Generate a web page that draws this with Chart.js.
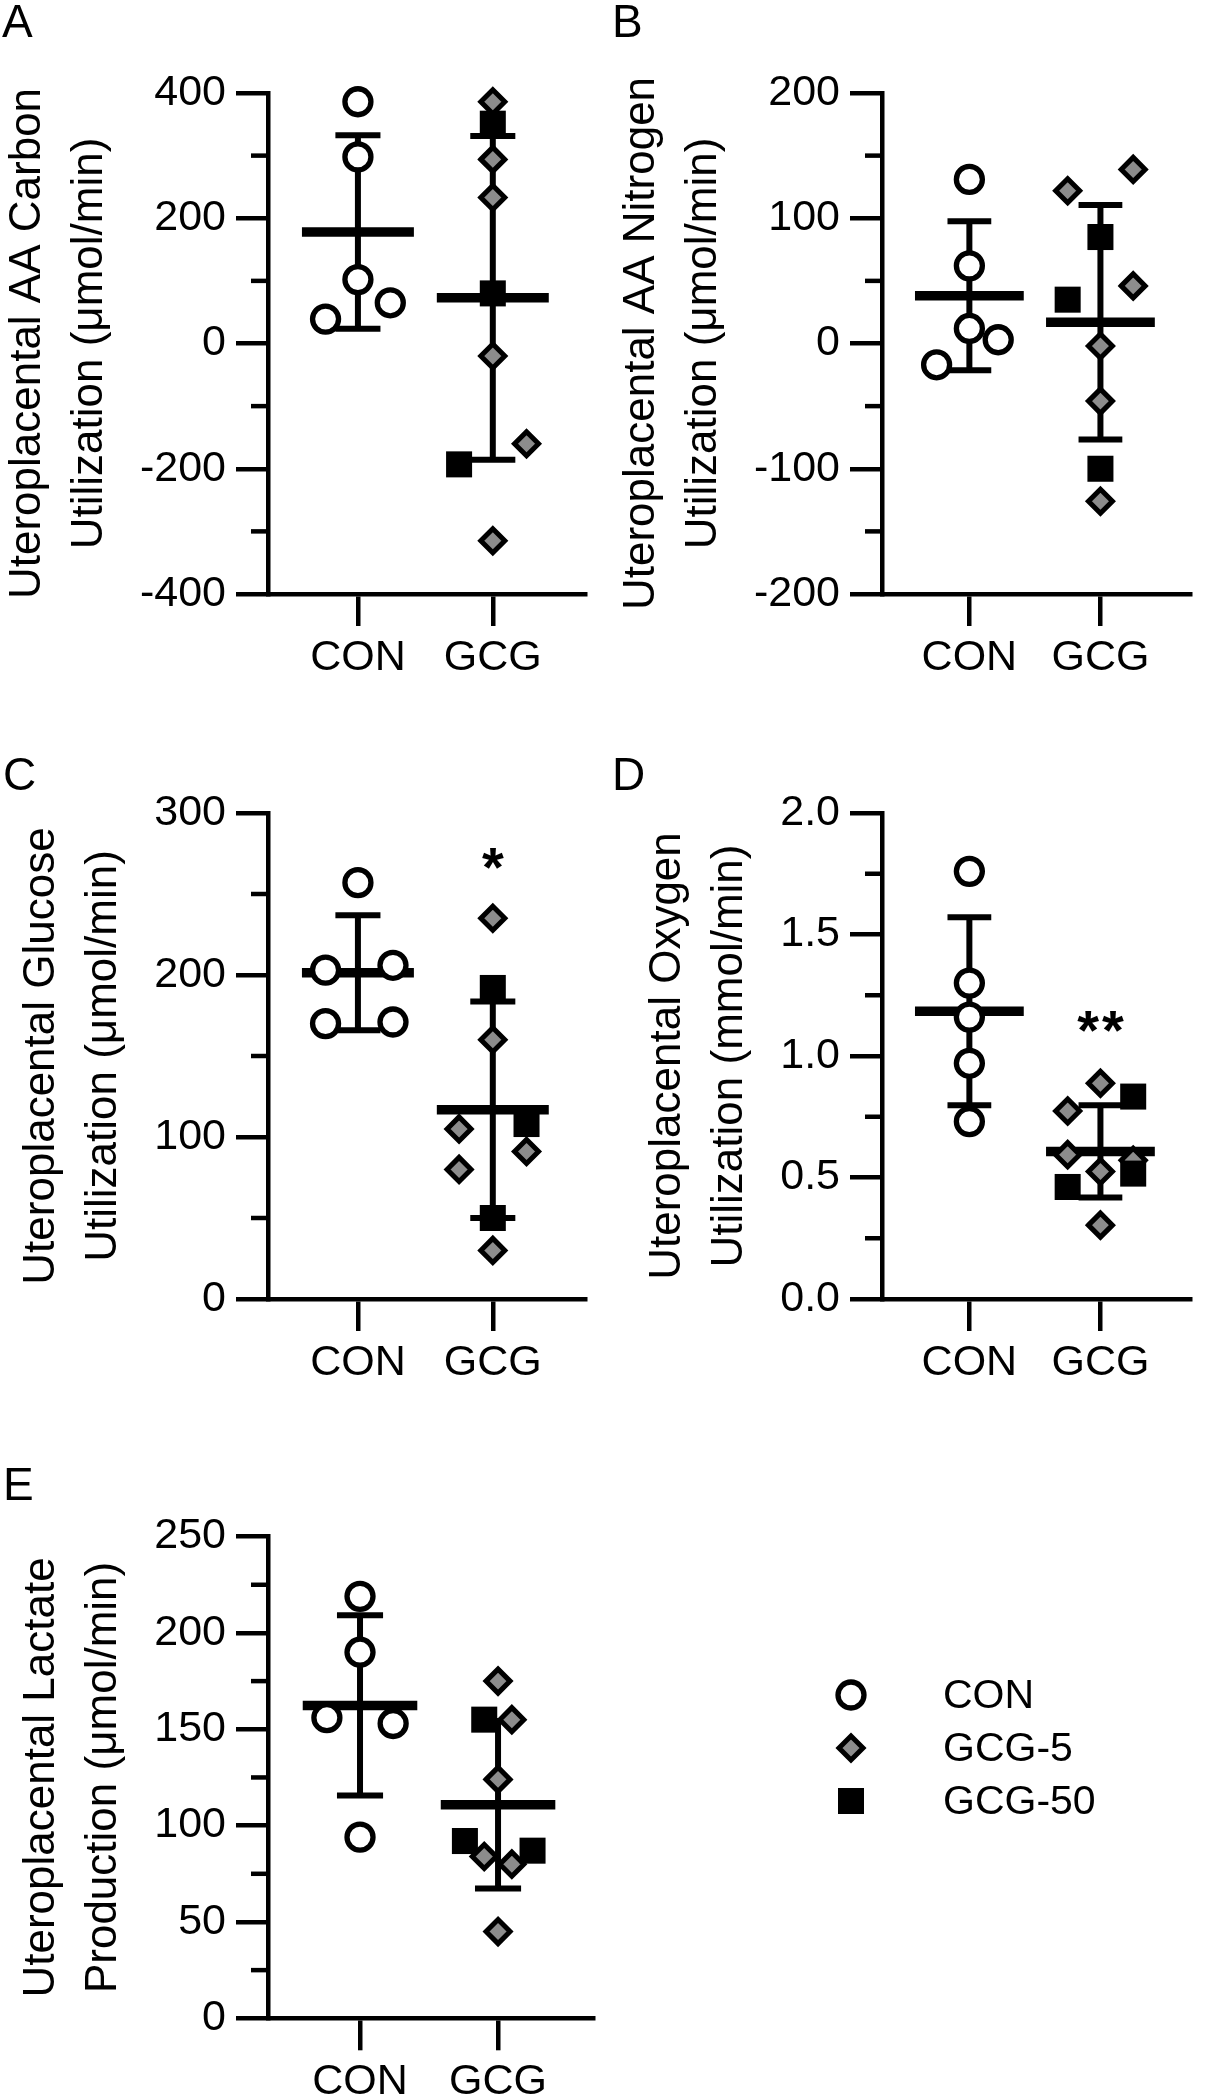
<!DOCTYPE html>
<html>
<head>
<meta charset="utf-8">
<script src="https://cdn.jsdelivr.net/npm/chart.js@4.4.1/dist/chart.umd.min.js"></script>
<style>
  html, body { margin: 0; padding: 0; background: #fff; }
  #page { position: relative; width: 1209px; height: 2100px; overflow: hidden; background: #fff; }
  #page canvas { position: absolute; }
</style>
</head>
<body>
<div id="page"></div>
<script>
const groups = ['CON', 'GCG'];
const seriesNames = ['CON', 'GCG-5', 'GCG-50'];

// A - AA carbon utilization (umol/min); *X = horizontal scatter of the dots
const carbonCon = [386, 298, 102, 65, 39];
const carbonConX = [0, 0, 0, 0.24, -0.24];
const carbonG5 = [386, 294, 233, -20, -160, -315];
const carbonG5X = [0, 0, 0, 0, 0.25, 0];
const carbonG50 = [351, 80, -193];
const carbonG50X = [0, 0, -0.25];
const carbonTicks = [-400, -200, 0, 200, 400];

// B - AA nitrogen utilization (umol/min)
const nitroCon = [131, 62, 12, 3, -17];
const nitroConX = [0, 0, 0, 0.22, -0.25];
const nitroG5 = [122, 139, 46, -2, -46, -126];
const nitroG5X = [-0.25, 0.25, 0.25, 0, 0, 0];
const nitroG50 = [85, 35, -100];
const nitroG50X = [0, -0.25, 0];
const nitroTicks = [-200, -100, 0, 100, 200];

// C - glucose utilization (umol/min)
const glucCon = [257, 203, 206, 170, 171];
const glucConX = [0, -0.24, 0.26, -0.24, 0.26];
const glucG5 = [235, 160, 105, 91, 80, 30];
const glucG5X = [0, 0, -0.25, 0.25, -0.25, 0];
const glucG50 = [192, 108, 50];
const glucG50X = [0, 0.25, 0];
const glucTicks = [0, 100, 200, 300];

// D - oxygen utilization (mmol/min)
const oxyCon = [1.76, 1.30, 1.16, 0.97, 0.73];
const oxyConX = [0, 0, 0, 0, 0];
const oxyG5 = [0.888, 0.774, 0.594, 0.571, 0.525, 0.304];
const oxyG5X = [0, -0.25, -0.25, 0.25, 0, 0];
const oxyG50 = [0.833, 0.516, 0.461];
const oxyG50X = [0.25, 0.25, -0.25];
const oxyTicks = [0, 0.5, 1, 1.5, 2];

// E - lactate production (umol/min)
const lacCon = [219, 190, 156, 153, 94];
const lacConX = [0, 0, -0.24, 0.24, 0];
const lacG5 = [175, 155, 124, 84, 80, 45];
const lacG5X = [0, 0.1, 0, -0.1, 0.1, 0];
const lacG50 = [155, 92, 87];
const lacG50X = [-0.1, -0.24, 0.25];
const lacTicks = [0, 50, 100, 150, 200, 250];

const FONT = "'Liberation Sans', Arial, Helvetica, sans-serif";
Chart.defaults.font.family = FONT;
Chart.defaults.color = '#000';

const X_MIN = 1 / 3, X_MAX = 2.688;
const MEAN_HALF = 0.415, CAP_HALF = 0.167;
const AXIS_W = 4.5;

const pointStyles = {
  'CON':    { pointStyle: 'circle',  pointRadius: 13,   pointBorderWidth: 5.3, pointBackgroundColor: '#fff',    pointBorderColor: '#000', order: 1 },
  'GCG-5':  { pointStyle: 'rectRot', pointRadius: 12,   pointBorderWidth: 5,   pointBackgroundColor: '#8c8c8c', pointBorderColor: '#000', order: 3 },
  'GCG-50': { pointStyle: 'rect',    pointRadius: 18.4, pointBorderWidth: 0,   pointBackgroundColor: '#000',    pointBorderColor: '#000', order: 2 },
};

const panels = [
  { letter: 'A', con: carbonCon, conX: carbonConX, g5: carbonG5, g5X: carbonG5X, g50: carbonG50, g50X: carbonG50X,
    ticks: carbonTicks, digits: 0, title: ['Uteroplacental AA Carbon', 'Utilization (μmol/min)'],
    canvas: [-10, 0, 614, 700], box: { left: 268, top: 93, right: 593, bottom: 594 }, letterAt: [2, 37] },
  { letter: 'B', con: nitroCon, conX: nitroConX, g5: nitroG5, g5X: nitroG5X, g50: nitroG50, g50X: nitroG50X,
    ticks: nitroTicks, digits: 0, title: ['Uteroplacental AA Nitrogen', 'Utilization (μmol/min)'],
    canvas: [604, 0, 605, 700], box: { left: 882, top: 93, right: 1207, bottom: 594 }, letterAt: [612, 37] },
  { letter: 'C', con: glucCon, conX: glucConX, g5: glucG5, g5X: glucG5X, g50: glucG50, g50X: glucG50X,
    ticks: glucTicks, digits: 0, title: ['Uteroplacental Glucose', 'Utilization (μmol/min)'],
    star: { text: '*', value: 275 },
    canvas: [-10, 700, 614, 700], box: { left: 268, top: 813, right: 593, bottom: 1299 }, letterAt: [3, 790] },
  { letter: 'D', con: oxyCon, conX: oxyConX, g5: oxyG5, g5X: oxyG5X, g50: oxyG50, g50X: oxyG50X,
    ticks: oxyTicks, digits: 1, title: ['Uteroplacental Oxygen', 'Utilization (mmol/min)'],
    star: { text: '**', value: 1.16 },
    canvas: [604, 700, 605, 700], box: { left: 882, top: 813, right: 1207, bottom: 1299 }, letterAt: [612, 790] },
  { letter: 'E', con: lacCon, conX: lacConX, g5: lacG5, g5X: lacG5X, g50: lacG50, g50X: lacG50X,
    ticks: lacTicks, digits: 0, title: ['Uteroplacental Lactate', 'Production (μmol/min)'],
    canvas: [-10, 1400, 1219, 720], box: { left: 268, top: 1536.6, right: 593, bottom: 2018.3 }, letterAt: [3, 1500],
    legend: { markerX: 851, textX: 943, rows: [1695, 1748, 1801] } },
];

function meanSd(v) {
  const m = v.reduce((a, b) => a + b, 0) / v.length;
  const sd = Math.sqrt(v.reduce((a, b) => a + (b - m) * (b - m), 0) / (v.length - 1));
  return [m, sd];
}

function seg(x1, y1, x2, y2, w) {
  return { type: 'line', data: [{ x: x1, y: y1 }, { x: x2, y: y2 }], borderColor: '#000', borderWidth: w,
           borderCapStyle: 'butt', pointRadius: 0, order: 5, clip: false };
}

// mean line + SD whiskers for one group
function meanBars(xc, values) {
  const [m, sd] = meanSd(values);
  return [
    seg(xc - MEAN_HALF, m, xc + MEAN_HALF, m, 9.5),
    seg(xc, m - sd, xc, m + sd, 6),
    seg(xc - CAP_HALF, m + sd, xc + CAP_HALF, m + sd, 6),
    seg(xc - CAP_HALF, m - sd, xc + CAP_HALF, m - sd, 6),
  ];
}

function dots(name, xc, values, offsets) {
  return Object.assign({ type: 'scatter', label: name, clip: false,
    data: values.map((v, i) => ({ x: xc + offsets[i], y: v })) }, pointStyles[name]);
}

const extras = {
  id: 'extras',
  afterDraw(chart, args, o) {
    const ctx = chart.ctx, sx = chart.scales.x, sy = chart.scales.y;
    const [cx, cy] = o.canvas;
    ctx.save();
    // minor ticks half way between the labelled ones
    ctx.strokeStyle = '#000';
    ctx.lineWidth = AXIS_W;
    for (let i = 0; i < o.ticks.length - 1; i++) {
      const py = sy.getPixelForValue((o.ticks[i] + o.ticks[i + 1]) / 2);
      ctx.beginPath();
      ctx.moveTo(sy.right - 17, py);
      ctx.lineTo(sy.right, py);
      ctx.stroke();
    }
    ctx.fillStyle = '#000';
    // panel letter
    ctx.font = '46px ' + FONT;
    ctx.textAlign = 'left';
    ctx.textBaseline = 'alphabetic';
    ctx.fillText(o.letter, o.letterAt[0] - cx, o.letterAt[1] - cy);
    // significance marks above GCG
    if (o.star) {
      const gap = 3;
      ctx.font = 'bold 56px ' + FONT;
      ctx.letterSpacing = gap + 'px';
      const w = ctx.measureText(o.star.text).width - gap;
      ctx.fillText(o.star.text, sx.getPixelForValue(2) - w / 2, sy.getPixelForValue(o.star.value) + 32);
      ctx.letterSpacing = '0px';
    }
    // legend
    if (o.legend) {
      ctx.font = '41px ' + FONT;
      ctx.textBaseline = 'middle';
      seriesNames.forEach((name, i) => {
        const st = pointStyles[name];
        const y = o.legend.rows[i] - cy;
        ctx.fillStyle = st.pointBackgroundColor;
        ctx.strokeStyle = st.pointBorderColor;
        ctx.lineWidth = st.pointBorderWidth;
        Chart.helpers.drawPoint(ctx, { pointStyle: st.pointStyle, radius: st.pointRadius,
          borderWidth: st.pointBorderWidth, rotation: 0 }, o.legend.markerX - cx, y);
        ctx.fillStyle = '#000';
        ctx.fillText(name, o.legend.textX - cx, y + 2);
      });
    }
    ctx.restore();
  }
};

function makeChart(p) {
  const [cx, cy, cw, ch] = p.canvas;
  const cv = document.createElement('canvas');
  cv.width = cw;
  cv.height = ch;
  cv.style.left = cx + 'px';
  cv.style.top = cy + 'px';
  document.getElementById('page').appendChild(cv);

  const gridOpts = { drawOnChartArea: false, drawTicks: true, tickLength: 32, lineWidth: AXIS_W,
                     tickWidth: AXIS_W, color: '#000', tickColor: '#000' };
  const borderOpts = { display: true, width: AXIS_W, color: '#000' };

  const datasets = [
    ...meanBars(1, p.con),
    ...meanBars(2, p.g5.concat(p.g50)),
    dots('CON', 1, p.con, p.conX),
    dots('GCG-5', 2, p.g5, p.g5X),
    dots('GCG-50', 2, p.g50, p.g50X),
  ];

  const chart = new Chart(cv, {
    type: 'scatter',
    data: { datasets },
    options: {
      responsive: false,
      animation: false,
      events: [],
      layout: { padding: { left: 0, right: 0, top: 0, bottom: 0 } },
      scales: {
        x: {
          type: 'linear', min: X_MIN, max: X_MAX,
          afterBuildTicks: ax => { ax.ticks = groups.map((g, i) => ({ value: i + 1 })); },
          ticks: { font: { size: 43 }, padding: 6, color: '#000', autoSkip: false, maxRotation: 0,
                   callback: (v, i) => groups[i] },
          grid: gridOpts,
          border: borderOpts,
        },
        y: {
          type: 'linear', min: p.ticks[0], max: p.ticks[p.ticks.length - 1],
          afterBuildTicks: ax => { ax.ticks = p.ticks.map(v => ({ value: v })); },
          ticks: { font: { size: 43 }, padding: 10, color: '#000', callback: v => Number(v).toFixed(p.digits) },
          grid: gridOpts,
          border: borderOpts,
          title: { display: true, text: p.title, color: '#000', font: { size: 44, lineHeight: 1.405 },
                   padding: { top: 0, bottom: 9.5 } },
        },
      },
      plugins: {
        legend: { display: false },
        tooltip: { enabled: false },
        extras: { canvas: p.canvas, ticks: p.ticks, letter: p.letter, letterAt: p.letterAt,
                  star: p.star || null, legend: p.legend || null },
      },
    },
    plugins: [extras],
  });

  // nudge the layout padding until the plot box sits where the figure has it
  const pad = { left: 0, right: 0, top: 0, bottom: 0 };
  for (let k = 0; k < 4; k++) {
    const ca = chart.chartArea;
    pad.left += (p.box.left - cx) - ca.left;
    pad.top += (p.box.top - cy) - ca.top;
    pad.right += ca.right - (p.box.right - cx);
    pad.bottom += ca.bottom - (p.box.bottom - cy);
    chart.options.layout.padding = Object.assign({}, pad);
    chart.update('none');
  }
  return chart;
}

panels.forEach(makeChart);
</script>
</body>
</html>
